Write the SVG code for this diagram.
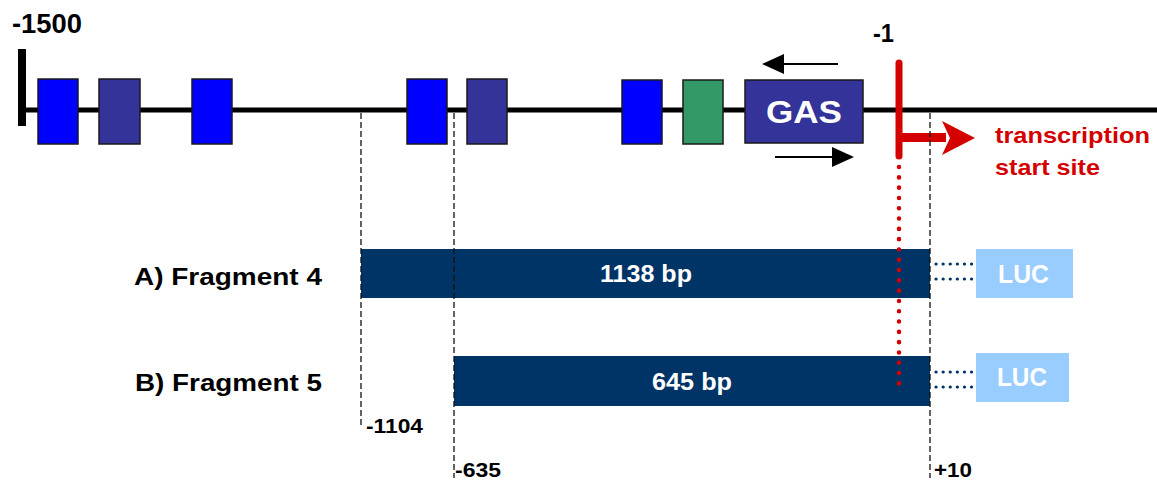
<svg xmlns="http://www.w3.org/2000/svg" width="1157" height="484" viewBox="0 0 1157 484">
<style>
text{font-family:"Liberation Sans",Arial,sans-serif;font-weight:bold}
.elem{stroke:#1a1a1a;stroke-width:1.5}
.dash{stroke:#111;stroke-width:1.3;stroke-dasharray:6,3;fill:none}
.frag{fill:#003366}
.luc{fill:#99CCFF}
.wt{fill:#fff}
.bk{fill:#000}
.red{fill:#D40000}
.dots{stroke:#003366;stroke-width:3.2;stroke-dasharray:0.1,7;stroke-linecap:round;fill:none}
</style>
<g id="backbone">
<line x1="22" y1="110" x2="1157" y2="110" stroke="#000" stroke-width="5"/>
<rect x="18" y="49" width="8" height="77" fill="#000"/>
<text x="12" y="33" font-size="27" textLength="70" lengthAdjust="spacingAndGlyphs" class="bk">-1500</text>
</g>
<g id="elements">
<rect id="e1" class="elem" x="38" y="79" width="40" height="65" fill="#0000FF"/>
<rect id="e2" class="elem" x="99" y="79" width="41" height="65" fill="#333399"/>
<rect id="e3" class="elem" x="192" y="79" width="40" height="65" fill="#0000FF"/>
<rect id="e4" class="elem" x="407" y="79" width="40" height="65" fill="#0000FF"/>
<rect id="e5" class="elem" x="467" y="79" width="40" height="65" fill="#333399"/>
<rect id="e6" class="elem" x="622" y="80" width="40" height="64" fill="#0000FF"/>
<rect id="e7" class="elem" x="683" y="80" width="40" height="64" fill="#339966"/>
<g id="gas">
<rect class="elem" x="745" y="80" width="118" height="63" fill="#333399"/>
<text x="766" y="123" font-size="32" textLength="76" lengthAdjust="spacingAndGlyphs" class="wt">GAS</text>
</g>
</g>
<g id="gas-arrows">
<line x1="838" y1="64" x2="764" y2="64" stroke="#000" stroke-width="2"/>
<path d="M762,64 L784,54 L784,74 Z" fill="#000"/>
<line x1="775" y1="157" x2="833" y2="157" stroke="#000" stroke-width="2"/>
<path d="M854,157 L832,147 L832,167 Z" fill="#000"/>
</g>
<g id="fragA">
<text x="134" y="285" font-size="24" textLength="188" lengthAdjust="spacingAndGlyphs" class="bk">A) Fragment 4</text>
<rect class="frag" x="361" y="249" width="569" height="49"/>
<text x="600" y="282" font-size="23" textLength="92" lengthAdjust="spacingAndGlyphs" class="wt">1138 bp</text>
</g>
<g id="fragB">
<text x="135" y="391" font-size="24" textLength="187" lengthAdjust="spacingAndGlyphs" class="bk">B) Fragment 5</text>
<rect class="frag" x="454" y="356" width="476" height="50"/>
<text x="652" y="390" font-size="23" textLength="80" lengthAdjust="spacingAndGlyphs" class="wt">645 bp</text>
</g>
<g id="lucA">
<rect class="luc" x="976" y="249" width="97" height="49"/>
<text x="998" y="283" font-size="26" textLength="51" lengthAdjust="spacingAndGlyphs" class="wt">LUC</text>
</g>
<g id="lucB">
<rect class="luc" x="976" y="353" width="93" height="49"/>
<text x="997" y="386" font-size="26" textLength="50" lengthAdjust="spacingAndGlyphs" class="wt">LUC</text>
</g>
<g id="tss">
<text x="873" y="42" font-size="26" textLength="21" lengthAdjust="spacingAndGlyphs" class="bk">-1</text>
<line x1="899" y1="63" x2="899" y2="156" stroke="#D40000" stroke-width="7" stroke-linecap="round"/>
<line x1="899" y1="137.5" x2="946" y2="137.5" stroke="#D40000" stroke-width="9"/>
<path d="M975,138 L942,121 L950,138 L942,155 Z" fill="#D40000"/>
<text x="995" y="143" font-size="22" textLength="155" lengthAdjust="spacingAndGlyphs" class="red">transcription</text>
<text x="995" y="175" font-size="22" textLength="105" lengthAdjust="spacingAndGlyphs" class="red">start site</text>
</g>
<g id="connectors">
<line class="dash" x1="361" y1="113" x2="361" y2="428"/>
<line class="dash" x1="454" y1="113" x2="454" y2="478"/>
<line class="dash" x1="930" y1="113" x2="930" y2="478"/>
<line x1="899" y1="167" x2="899" y2="392" stroke="#D40000" stroke-width="4.5" stroke-dasharray="0.1,10.2" stroke-linecap="round"/>
<line class="dots" x1="936" y1="264" x2="975" y2="264"/>
<line class="dots" x1="936" y1="279" x2="975" y2="279"/>
<line class="dots" x1="936" y1="372" x2="975" y2="372"/>
<line class="dots" x1="936" y1="387" x2="975" y2="387"/>
</g>
<g id="positions">
<text x="366" y="433" font-size="21" textLength="57" lengthAdjust="spacingAndGlyphs" class="bk">-1104</text>
<text x="455" y="477" font-size="21" textLength="46" lengthAdjust="spacingAndGlyphs" class="bk">-635</text>
<text x="934" y="477" font-size="21" textLength="38" lengthAdjust="spacingAndGlyphs" class="bk">+10</text>
</g>
</svg>
